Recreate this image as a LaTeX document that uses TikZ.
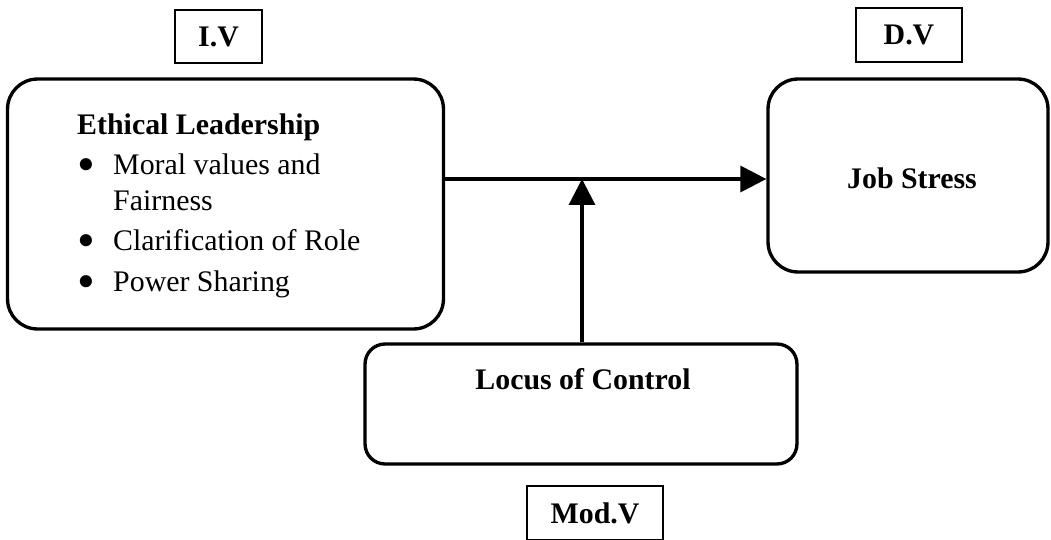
\documentclass[tikz,border=0pt]{standalone}
\usepackage{fontspec}
\setmainfont{Liberation Serif}
\usetikzlibrary{positioning,arrows.meta,calc}
\newcommand{\bul}{\makebox[0.72cm][l]{\smash{\raisebox{-3.9pt}{\scalebox{1.7}{\textbullet}}}}}
\tikzset{
  varb/.style={draw=black, line width=1.1pt, inner sep=0pt,
    font=\fontsize{17}{21}\selectfont\bfseries},
  conb/.style={draw=black, line width=1.9pt, rounded corners=0.6cm, inner sep=0pt},
  txt/.style={inner sep=0pt, font=\fontsize{17}{20.5}\selectfont},
  link/.style={-{Triangle[length=0.52cm,width=0.52cm]}, line width=1.9pt},
}
\begin{document}
\begin{tikzpicture}[x=0.02cm, y=0.02cm]
    \useasboundingbox (0,0) rectangle (1051,539);
    % variable tags
    \node[varb, minimum width=1.74cm, minimum height=1.06cm] (iv) at (218.5,502.5) {I.V};
    \node[varb, minimum width=2.12cm, minimum height=1.08cm] (dv) at (909,504) {D.V};
    \node[varb, minimum width=2.72cm, minimum height=1.08cm] (modv) at (595,26) {Mod.V};
    % constructs
    \node[conb, minimum width=8.72cm, minimum height=5.0cm] (ethl) at (225.5,335) {};
    \node[conb, minimum width=5.6cm, minimum height=3.86cm] (jobs) at (908,363.5) {};
    \node[conb, rounded corners=0.4cm, minimum width=8.64cm, minimum height=2.4cm] (loc) at (581,135) {};
    \node[txt, anchor=north west] (ethltxt) at ($(ethl.north west)+(71,-32)$)
      {\begin{tabular}[t]{@{}l@{}}
        \textbf{Ethical Leadership}\\[2pt]
        \bul Moral values and\\
        \hspace{0.72cm}Fairness\\[2.5pt]
        \bul Clarification of Role\\[2.5pt]
        \bul Power Sharing
      \end{tabular}};
    \node[txt, font=\fontsize{17}{21}\selectfont\bfseries] (jobstxt) at ($(jobs.center)+(4,-3)$) {Job Stress};
    \node[txt, font=\fontsize{17}{21}\selectfont\bfseries, anchor=base] (loctxt) at ($(loc.north)+(2,-47)$) {Locus of Control};
    % paths
    \coordinate (jn) at (582,360);
    \draw[link] (ethl.east |- jn) -- (jobs.west |- jn);
    \draw[link] (loc.north -| jn) -- (jn);
\end{tikzpicture}
\end{document}
